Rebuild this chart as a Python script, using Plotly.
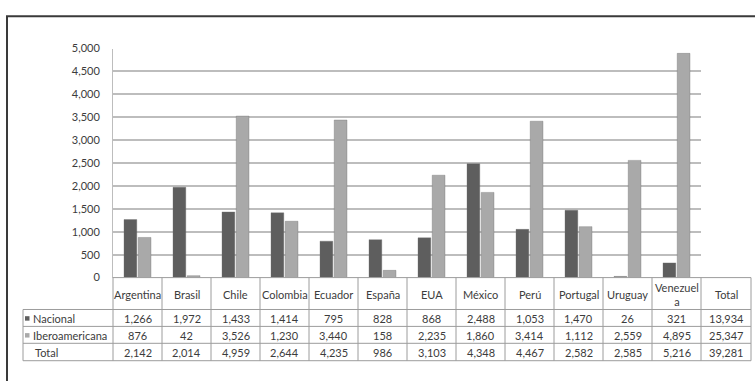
import plotly.graph_objects as go

# Data
categories = ["Argentina", "Brasil", "Chile", "Colombia", "Ecuador", "España",
              "EUA", "México", "Perú", "Portugal", "Uruguay", "Venezuela"]
header_labels = ["Argentina", "Brasil", "Chile", "Colombia", "Ecuador", "España",
                 "EUA", "México", "Perú", "Portugal", "Uruguay", "Venezuel<br>a"]
nacional = [1266, 1972, 1433, 1414, 795, 828, 868, 2488, 1053, 1470, 26, 321]
iberoamericana = [876, 42, 3526, 1230, 3440, 158, 2235, 1860, 3414, 1112, 2559, 4895]
series_names = ["Nacional", "Iberoamericana"]
y_ticks = [0, 500, 1000, 1500, 2000, 2500, 3000, 3500, 4000, 4500, 5000]

totals = [a + b for a, b in zip(nacional, iberoamericana)]

# Page geometry (pixels)
W, H = 755, 387
PLOT_L, CELL_W = 113, 49
PLOT_R = PLOT_L + CELL_W * len(categories)
TOTAL_R = PLOT_R + 50
PLOT_T, PLOT_B = 43, 280
LABEL_L = 23
ROW_Y = [280, 313, 330.5, 348, 366]

DARK, LIGHT = "#5e5e5e", "#a9a9a9"
GRID, BORDER, TEXT = "#bdbdbd", "#9c9c9c", "#3c3c3c"
FONT = "Lato"


def px(x):
    return x / W


def py(y):
    return 1 - y / H


def fmt(v):
    return f"{v:,}"


fig = go.Figure()
for name, vals, col in [(series_names[0], nacional, DARK),
                        (series_names[1], iberoamericana, LIGHT)]:
    fig.add_trace(go.Bar(
        x=categories, y=vals, name=name,
        marker=dict(color=col, line=dict(color="rgba(110,110,110,0.35)", width=1)),
    ))

shapes = []
annotations = []


def hline(y, x0, x1, color=BORDER, width=1):
    shapes.append(dict(type="line", xref="paper", yref="paper",
                       x0=px(x0), x1=px(x1), y0=py(y), y1=py(y),
                       line=dict(color=color, width=width)))


def vline(x, y0, y1, color=BORDER, width=1):
    shapes.append(dict(type="line", xref="paper", yref="paper",
                       x0=px(x), x1=px(x), y0=py(y0), y1=py(y1),
                       line=dict(color=color, width=width)))


def text(x, y, s, anchor="center"):
    annotations.append(dict(xref="paper", yref="paper", x=px(x), y=py(y), text=s,
                            showarrow=False, xanchor=anchor, yanchor="middle",
                            font=dict(family=FONT, size=11, color=TEXT)))


# Data table grid
hline(ROW_Y[0], PLOT_L, TOTAL_R)
for y in ROW_Y[1:]:
    hline(y, LABEL_L, TOTAL_R)
vline(LABEL_L, ROW_Y[1], ROW_Y[-1])
for i in range(len(categories) + 1):
    vline(PLOT_L + i * CELL_W, ROW_Y[0], ROW_Y[-1])
vline(TOTAL_R, ROW_Y[0], ROW_Y[-1])

# Column headers and values
col_centers = [PLOT_L + (i + 0.5) * CELL_W for i in range(len(categories))]
col_centers.append((PLOT_R + TOTAL_R) / 2)
rows = [nacional + [sum(nacional)],
        iberoamericana + [sum(iberoamericana)],
        totals + [sum(totals)]]
for cx, lab in zip(col_centers, header_labels + ["Total"]):
    text(cx, (ROW_Y[0] + ROW_Y[1]) / 2 + 1, lab)
for r, vals in enumerate(rows):
    yc = (ROW_Y[r + 1] + ROW_Y[r + 2]) / 2 + 0.5
    for cx, v in zip(col_centers, vals):
        text(cx, yc, fmt(v))

# Row labels with legend keys
for r, (lab, col) in enumerate([(series_names[0], DARK), (series_names[1], LIGHT), ("Total", None)]):
    yc = (ROW_Y[r + 1] + ROW_Y[r + 2]) / 2 + 0.5
    if col:
        shapes.append(dict(type="rect", xref="paper", yref="paper",
                           x0=px(25), x1=px(29.5), y0=py(yc + 2.3), y1=py(yc - 2.3),
                           fillcolor=col, line=dict(width=0)))
        text(31, yc, lab, anchor="left")
    else:
        text(33, yc, lab, anchor="left")

# Outer frame (top and left edges)
hline(9.5, 6, W, color="#3a3a3a", width=2)
vline(7, 9.5, H, color="#3a3a3a", width=2)

fig.update_layout(
    width=W, height=H,
    margin=dict(l=0, r=0, t=0, b=0),
    paper_bgcolor="white", plot_bgcolor="white",
    barmode="group", bargap=0.42, bargroupgap=0.1,
    showlegend=False,
    shapes=shapes, annotations=annotations,
    xaxis=dict(domain=[px(PLOT_L), px(PLOT_R)], showticklabels=False,
               showgrid=False, showline=False, zeroline=False, fixedrange=True),
    yaxis=dict(domain=[py(PLOT_B), py(PLOT_T)], range=[0, 5000],
               tickvals=y_ticks, tickformat=",d",
               showgrid=True, gridcolor=GRID, gridwidth=1.5,
               showline=True, linecolor=GRID, linewidth=1,
               zeroline=False, ticks="", ticklabelstandoff=10,
               tickfont=dict(family=FONT, size=11, color=TEXT), fixedrange=True),
)

fig.write_html("out.html")
